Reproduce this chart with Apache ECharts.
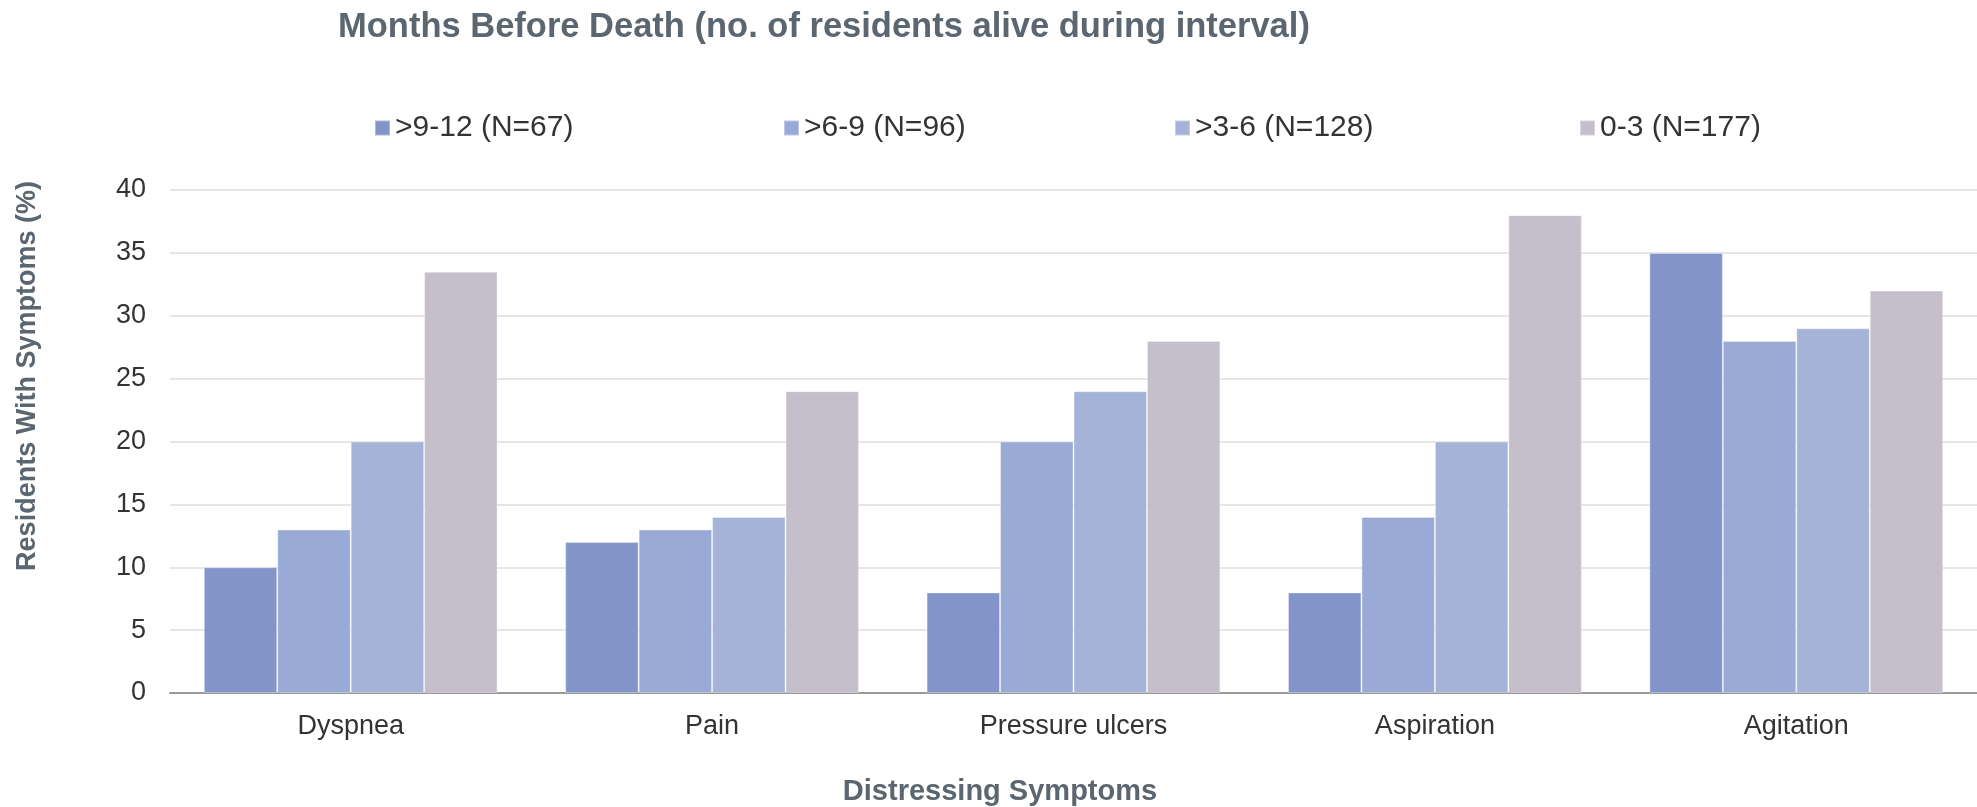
<!DOCTYPE html>
<html>
<head>
<meta charset="utf-8">
<script src="https://cdn.jsdelivr.net/npm/echarts@6/dist/echarts.min.js"></script>
<style>
html,body{margin:0;padding:0;background:#fff;}
#chart{width:1977px;height:807px;}
</style>
</head>
<body>
<div id="chart"></div>
<script>
const categories = ['Dyspnea', 'Pain', 'Pressure ulcers', 'Aspiration', 'Agitation'];
const seriesNames = ['>9-12 (N=67)', '>6-9 (N=96)', '>3-6 (N=128)', '0-3 (N=177)'];
const s912 = [10, 12, 8, 8, 35];
const s69 = [13, 13, 20, 14, 28];
const s36 = [20, 14, 24, 20, 29];
const s03 = [33.5, 24, 28, 38, 32];
const yTicks = [0, 5, 10, 15, 20, 25, 30, 35, 40];

const colors = ['#8394cb', '#9aaad6', '#a6b3d9', '#c5bfcc'];
const values = [s912, s69, s36, s03];
const legendLeft = [374, 783, 1174, 1579];

const chart = echarts.init(document.getElementById('chart'), null, {renderer: 'canvas'});
const font = '"Liberation Sans", Arial, Helvetica, sans-serif';
const titleColor = '#5b6670';

const option = {
  animation: false,
  backgroundColor: '#ffffff',
  color: colors,
  title: {
    text: 'Months Before Death (no. of residents alive during interval)',
    left: 338,
    top: 10,
    padding: 0,
    textStyle: {fontFamily: font, fontSize: 34.5, fontWeight: 'bold', color: titleColor}
  },
  legend: seriesNames.map((n, i) => ({
    data: [n],
    left: legendLeft[i],
    top: 113,
    padding: 0,
    itemWidth: 15,
    itemHeight: 15,
    itemGap: 0,
    icon: 'rect',
    textStyle: {fontFamily: font, fontSize: 30, color: '#333333'}
  })),
  grid: {left: 170, right: 0, top: 190, bottom: 114, containLabel: false},
  xAxis: {
    type: 'category',
    data: categories,
    axisLine: {show: true, lineStyle: {color: '#999999', width: 2}},
    axisTick: {show: false},
    axisLabel: {fontFamily: font, fontSize: 27, color: '#333333', margin: 20}
  },
  yAxis: {
    type: 'value',
    min: yTicks[0],
    max: yTicks[yTicks.length - 1],
    interval: 5,
    axisLine: {show: false},
    axisTick: {show: false},
    axisLabel: {fontFamily: font, fontSize: 27, color: '#333333', margin: 24},
    splitLine: {lineStyle: {color: '#e6e6e6', width: 2}}
  },
  graphic: [
    {
      type: 'text',
      x: 28, y: 376,
      rotation: Math.PI / 2,
      style: {
        text: 'Residents With Symptoms (%)',
        font: 'bold 27px ' + font,
        fill: titleColor,
        textAlign: 'center',
        textVerticalAlign: 'middle'
      }
    },
    {
      type: 'text',
      x: 1000, y: 792,
      style: {
        text: 'Distressing Symptoms',
        font: 'bold 29px ' + font,
        fill: titleColor,
        textAlign: 'center',
        textVerticalAlign: 'middle'
      }
    }
  ],
  series: seriesNames.map((n, i) => ({
    name: n,
    type: 'bar',
    data: values[i],
    barGap: '0%',
    barCategoryGap: '18.7%',
    itemStyle: {color: colors[i], borderColor: 'rgba(255,255,255,0.35)', borderWidth: 1}
  }))
};
chart.setOption(option);
</script>
</body>
</html>
